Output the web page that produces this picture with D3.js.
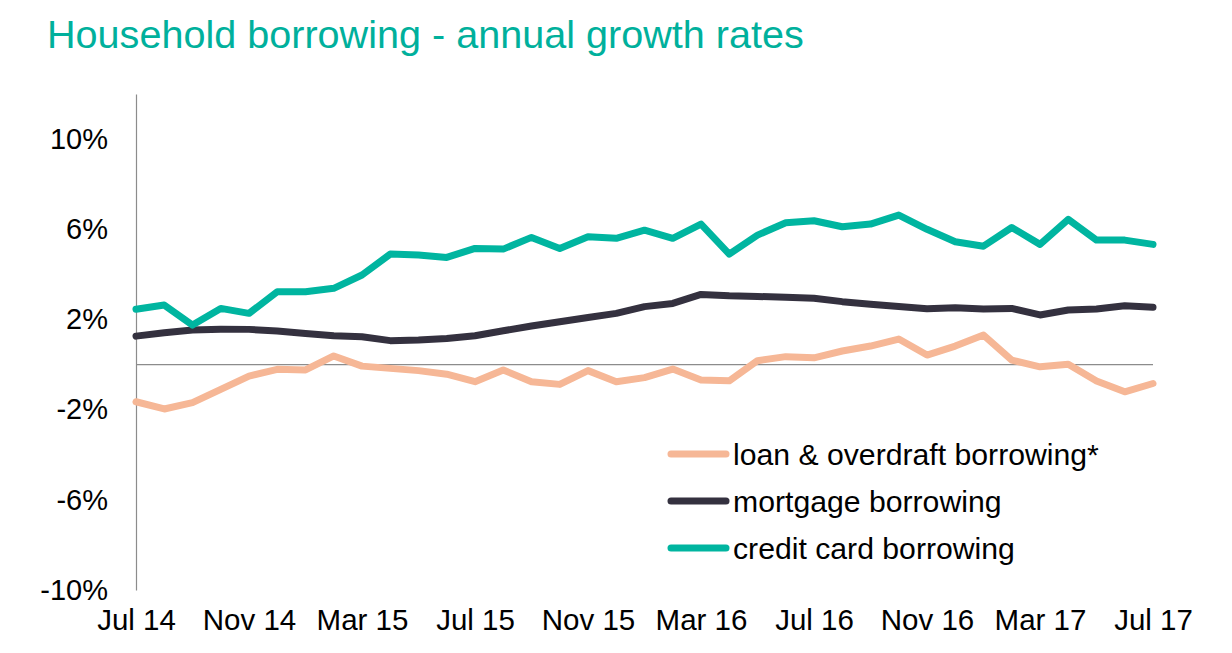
<!DOCTYPE html>
<html>
<head>
<meta charset="utf-8">
<script src="https://cdn.jsdelivr.net/npm/d3@7"></script>
<style>
  html, body { margin: 0; padding: 0; background: #fff; }
  svg { display: block; font-family: "Liberation Sans", Arial, sans-serif; }
</style>
</head>
<body>
<svg id="chart" width="1232" height="653"></svg>
<script>
const months = [
  "Jul 14","Aug 14","Sep 14","Oct 14","Nov 14","Dec 14","Jan 15","Feb 15","Mar 15","Apr 15","May 15","Jun 15",
  "Jul 15","Aug 15","Sep 15","Oct 15","Nov 15","Dec 15","Jan 16","Feb 16","Mar 16","Apr 16","May 16","Jun 16",
  "Jul 16","Aug 16","Sep 16","Oct 16","Nov 16","Dec 16","Jan 17","Feb 17","Mar 17","Apr 17","May 17","Jun 17","Jul 17"
];
const xTickLabels = ["Jul 14","Nov 14","Mar 15","Jul 15","Nov 15","Mar 16","Jul 16","Nov 16","Mar 17","Jul 17"];
const yTickValues = [10, 6, 2, -2, -6, -10];

const loanOverdraft = [
  -1.65, -1.97, -1.69, -1.10, -0.51, -0.21, -0.24, 0.38, -0.07, -0.17, -0.27, -0.43,
  -0.76, -0.24, -0.76, -0.88, -0.27, -0.76, -0.58, -0.20, -0.69, -0.72, 0.17, 0.35,
  0.30, 0.60, 0.82, 1.13, 0.42, 0.82, 1.31, 0.20, -0.10, 0.01, -0.73, -1.21, -0.84
];
const mortgage = [
  1.26, 1.41, 1.53, 1.57, 1.56, 1.49, 1.38, 1.28, 1.23, 1.06, 1.09, 1.16,
  1.28, 1.50, 1.71, 1.90, 2.09, 2.27, 2.57, 2.71, 3.11, 3.05, 3.02, 2.98,
  2.94, 2.79, 2.67, 2.57, 2.47, 2.52, 2.46, 2.49, 2.20, 2.42, 2.46, 2.61, 2.54
];
const creditCard = [
  2.45, 2.64, 1.75, 2.49, 2.27, 3.23, 3.23, 3.38, 3.97, 4.90, 4.86, 4.75,
  5.15, 5.12, 5.64, 5.15, 5.67, 5.60, 5.96, 5.60, 6.23, 4.90, 5.74, 6.29,
  6.38, 6.11, 6.23, 6.63, 6.00, 5.45, 5.25, 6.08, 5.33, 6.44, 5.52, 5.52, 5.33
];

const seriesNames = ["loan & overdraft borrowing*", "mortgage borrowing", "credit card borrowing"];
const seriesColors = ["#F6B796", "#34313F", "#00B5A0"];
const seriesData = [loanOverdraft, mortgage, creditCard];

const svg = d3.select("#chart");

// Title
svg.append("text")
  .attr("x", 47).attr("y", 48)
  .attr("font-size", 39.6)
  .attr("fill", "#00B09C")
  .text("Household borrowing - annual growth rates");

const x = d3.scalePoint().domain(months).range([136, 1153]);
const y = d3.scaleLinear().domain([-10, 12]).range([590, 94]);

// Y axis
const yAxis = svg.append("g")
  .attr("transform", "translate(136,0)")
  .call(d3.axisLeft(y).tickValues(yTickValues).tickSize(0).tickSizeOuter(0).tickPadding(28)
    .tickFormat(d => d + "%"));
yAxis.select(".domain").attr("stroke", "#8c8c8c").attr("stroke-width", 1.2);
yAxis.selectAll("text").attr("font-size", 29).attr("fill", "#000")
  .attr("font-family", "Liberation Sans, Arial, sans-serif");

// X axis labels
const xAxis = svg.append("g")
  .attr("transform", "translate(0,590)")
  .call(d3.axisBottom(x).tickValues(xTickLabels).tickSize(0).tickPadding(19));
xAxis.select(".domain").remove();
xAxis.selectAll("text").attr("font-size", 29.5).attr("fill", "#000")
  .attr("font-family", "Liberation Sans, Arial, sans-serif");

// zero line
svg.append("line")
  .attr("x1", x(months[0])).attr("x2", x(months[months.length - 1]))
  .attr("y1", y(0)).attr("y2", y(0))
  .attr("stroke", "#8c8c8c").attr("stroke-width", 1.2);

// Lines
const line = d3.line()
  .x((d, i) => x(months[i]))
  .y(d => y(d));

seriesData.forEach((data, k) => {
  svg.append("path")
    .datum(data)
    .attr("d", line)
    .attr("fill", "none")
    .attr("stroke", seriesColors[k])
    .attr("stroke-width", 7)
    .attr("stroke-linejoin", "round")
    .attr("stroke-linecap", "round");
});

// Legend
const legend = svg.append("g").attr("transform", "translate(668,454)");
seriesNames.forEach((name, k) => {
  const g = legend.append("g").attr("transform", `translate(0,${k * 47})`);
  g.append("line")
    .attr("x1", 3).attr("x2", 58).attr("y1", 0).attr("y2", 0)
    .attr("stroke", seriesColors[k]).attr("stroke-width", 7)
    .attr("stroke-linecap", "round");
  g.append("text")
    .attr("x", 65).attr("y", 0).attr("dy", "0.35em")
    .attr("font-size", 30.2).attr("fill", "#000")
    .text(name);
});
</script>
</body>
</html>
